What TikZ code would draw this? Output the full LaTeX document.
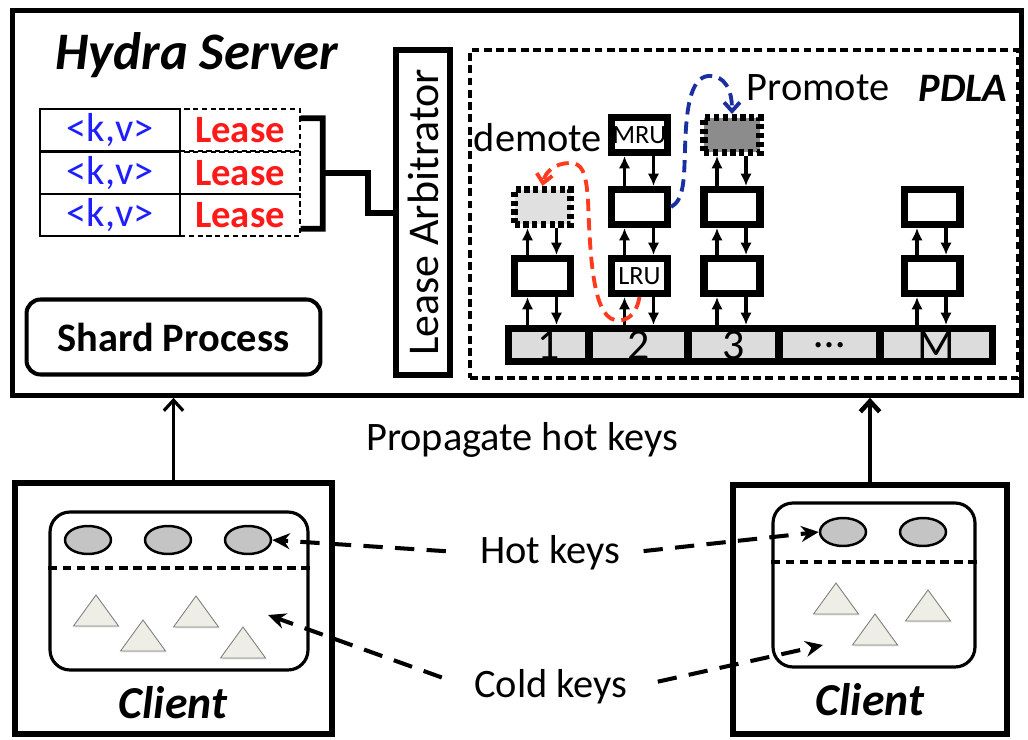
\documentclass[tikz,border=0pt]{standalone}
\usepackage{fontspec}
\usepackage{graphicx}
\setmainfont{Carlito}
\usetikzlibrary{arrows.meta,shapes.geometric,shadows}
\newcommand{\fsz}[1]{\fontsize{#1pt}{#1pt}\selectfont}
\definecolor{kvblue}{HTML}{1E1EFF}
\definecolor{leasered}{HTML}{FF1A1A}
\definecolor{demred}{HTML}{FF3B1F}
\definecolor{promblue}{HTML}{1A2FA0}
\definecolor{ghostgray}{HTML}{E0E0E0}
\definecolor{hotgray}{HTML}{8C8C8C}
\definecolor{bargray}{HTML}{DCDCDC}
\definecolor{keygray}{HTML}{C4C4C4}
\definecolor{coldfill}{HTML}{EEEEE6}
\begin{document}
\begin{tikzpicture}[x=0.02cm,y=-0.02cm,
  box/.style={draw,line width=3.4pt,inner sep=0pt},
  kvcell/.style={draw,line width=0.8pt,minimum width=2.8cm,minimum height=0.84cm,inner sep=0pt,text=kvblue,font=\fsz{23}},
  leasecell/.style={draw,densely dashed,line width=0.8pt,minimum width=2.4cm,minimum height=0.84cm,inner sep=0pt,text=leasered,font=\bfseries\fsz{22}},
  link/.style={line width=3.2pt},
  slot/.style={draw,line width=4pt,fill=white,minimum width=1.12cm,minimum height=0.7cm,inner sep=0pt,font=\fsz{15}},
  ghost/.style={slot,dash pattern=on 3pt off 2pt,fill=ghostgray},
  barcell/.style={draw,line width=4pt,fill=bargray,minimum height=0.66cm,inner sep=0pt,font=\fsz{25}},
  updown/.style={line width=2.2pt,-{Latex[length=7pt,width=6.5pt]}},
  move/.style={line width=2.2pt,dash pattern=on 7pt off 4pt,-{Straight Barb[length=5pt,width=9pt]}},
  hotcold/.style={line width=2.3pt,dash pattern=on 11pt off 7pt,-{Stealth[length=10pt,width=9pt]}},
  push/.style={-{Straight Barb[length=6pt,width=11pt]}},
  keybox/.style={draw,line width=1.8pt,rounded corners=0.4cm,inner sep=0pt},
  split/.style={line width=2pt,dash pattern=on 5pt off 3pt},
  hotkey/.style={ellipse,draw,line width=1.4pt,fill=keygray,minimum width=0.92cm,minimum height=0.56cm,inner sep=0pt},
  coldkey/.style={draw=gray,line width=0.5pt,fill=coldfill,drop shadow={opacity=0.25,shadow xshift=0.8pt,shadow yshift=-0.8pt}},
  label/.style={font=\fsz{23}}]
\fill[white] (0,0) rectangle (1028,740);
\useasboundingbox (0,0) rectangle (1028,740);

% server side
\node[box,line width=3pt,minimum width=20.18cm,minimum height=7.69cm] (server) at (517,203) {};
\node[font=\bfseries\itshape\fsz{30}] (title) at (197,55) {Hydra Server};
\node[kvcell] (k1) at (110,130) {<k,v>};
\node[kvcell] (k2) at (110,173) {<k,v>};
\node[kvcell] (k3) at (110,215) {<k,v>};
\node[leasecell] (l1) at (240,130) {Lease};
\node[leasecell] (l2) at (240,173) {Lease};
\node[leasecell] (l3) at (240,215) {Lease};
\node[box,minimum width=1.08cm,minimum height=6.5cm,font=\fsz{25}] (arb) at (423,212.5) {\rotatebox{90}{Lease Arbitrator}};
\node[box,line width=2.3pt,rounded corners=0.28cm,minimum width=5.88cm,minimum height=1.5cm,font=\bfseries\fsz{23}] (shard) at (173.5,337) {Shard Process};

% brace from the leases to the arbitrator
\coordinate (join) at (368,213);
\draw[link] ([yshift=-0.2cm]l1.north east) -- ++(22,0) -- ([xshift=0.44cm,yshift=0.16cm]l3.south east) -- ([yshift=0.16cm]l3.south east);
\draw[link] ([xshift=0.44cm]l2.east) -| (join) -- (join -| arb.west);

% PDLA lists
\node[draw,line width=2.3pt,dash pattern=on 4.5pt off 2.5pt,minimum width=10.96cm,minimum height=6.56cm] (pdla) at (744,214) {};
\node[font=\bfseries\itshape\fsz{23}] (pdlaname) at (963,88) {PDLA};
\foreach \n/\x/\w/\t in {b1/548.75/1.61/1, b2/638.5/1.98/2, b3/733.5/1.82/3, b4/829.5/2.02/\ldots, b5/936.25/2.25/M}
  \node[barcell,minimum width=\w cm] (\n) at (\x,345) {\t};

\node[slot] (c1a) at (542.5,276) {};
\node[ghost] (c1b) at (542.5,207) {};
\node[slot] (c2a) at (639.5,276) {LRU};
\node[slot] (c2b) at (639.5,207) {};
\node[slot] (c2c) at (639.5,135) {MRU};
\node[slot] (c3a) at (732,276) {};
\node[slot] (c3b) at (732,207) {};
\node[slot,dash pattern=on 3pt off 2pt,fill=hotgray] (c3c) at (732,135) {};
\node[slot] (cMa) at (932,276) {};
\node[slot] (cMb) at (932,207) {};

\coordinate (c1o) at (c1a |- b1.north);
\coordinate (c2o) at (c2a |- b2.north);
\coordinate (c3o) at (c3a |- b3.north);
\coordinate (cMo) at (cMa |- b5.north);
\foreach \lo/\hi in {c1o/c1a.south, c1a.north/c1b.south, c2o/c2a.south, c2a.north/c2b.south, c2b.north/c2c.south,
    c3o/c3a.south, c3a.north/c3b.south, c3b.north/c3c.south, cMo/cMa.south, cMa.north/cMb.south}{
  \draw[updown] ([xshift=-0.3cm]\lo) -- ([xshift=-0.3cm]\hi);
  \draw[updown] ([xshift=0.28cm]\hi) -- ([xshift=0.28cm]\lo);
}

% demote / promote
\node[label] (demote) at (538,138) {demote};
\node[label] (promote) at (818,88) {Promote};
\draw[move,demred] (c2a.south) .. controls (636,316) and (626,322) .. (615,320)
  .. controls (592,316) and (590,250) .. (588,200) .. controls (586,172) and (582,163) .. (570,163)
  .. controls (555,163) and (545,172) .. (c1b.north);
\draw[move,promblue] (c2b.east) .. controls (684,200) and (684,180) .. (685,150)
  .. controls (686,110) and (690,78) .. (708,76) .. controls (725,75) and (732,90) .. (c3c.north);

% clients
\node[label] (prop) at (522,440) {Propagate hot keys};
\node[box,minimum width=6.34cm,minimum height=5.02cm] (clientL) at (173.5,608.5) {};
\node[box,minimum width=5.48cm,minimum height=4.98cm] (clientR) at (870,609.5) {};
\node[font=\bfseries\itshape\fsz{26}] (nameL) at (173,703) {Client};
\node[font=\bfseries\itshape\fsz{26}] (nameR) at (870,700) {Client};
\node[keybox,minimum width=5.16cm,minimum height=3.16cm] (keysL) at (179,591) {};
\node[keybox,minimum width=4.04cm,minimum height=3.28cm] (keysR) at (874,585) {};
\draw[split] (keysL.west |- 0,568) -- (keysL.east |- 0,568);
\draw[split] (keysR.west |- 0,562) -- (keysR.east |- 0,562);
\node[hotkey] (hL1) at (88,540) {};
\node[hotkey] (hL2) at (168,540) {};
\node[hotkey] (hL3) at (248,540) {};
\node[hotkey] (hR1) at (843,532) {};
\node[hotkey] (hR2) at (923,532) {};
\foreach \x/\y in {96/595, 143/620, 196/596, 243/627, 836/583, 875/614, 928/590}
  \draw[coldkey] (\x,\y) -- ++(-22.5,31) -- ++(45,0) -- cycle;

\draw[push,line width=1.8pt] (clientL.north) -- (clientL.north |- server.south);
\draw[push,line width=2.6pt] (clientR.north) -- (clientR.north |- server.south);

\node[label] (hot) at (550,553) {Hot keys};
\node[label] (cold) at (551,687) {Cold keys};
\coordinate (coldL) at (268,615);
\coordinate (coldR) at (823,645);
\draw[hotcold,shorten <=16pt] (hot.west) -- (hL3.east);
\draw[hotcold,shorten <=10pt] (hot.east) -- (hR1.west);
\draw[hotcold,shorten <=16pt] (cold.west) -- (coldL);
\draw[hotcold,shorten <=14pt] (cold.east) -- (coldR);
\end{tikzpicture}
\end{document}
